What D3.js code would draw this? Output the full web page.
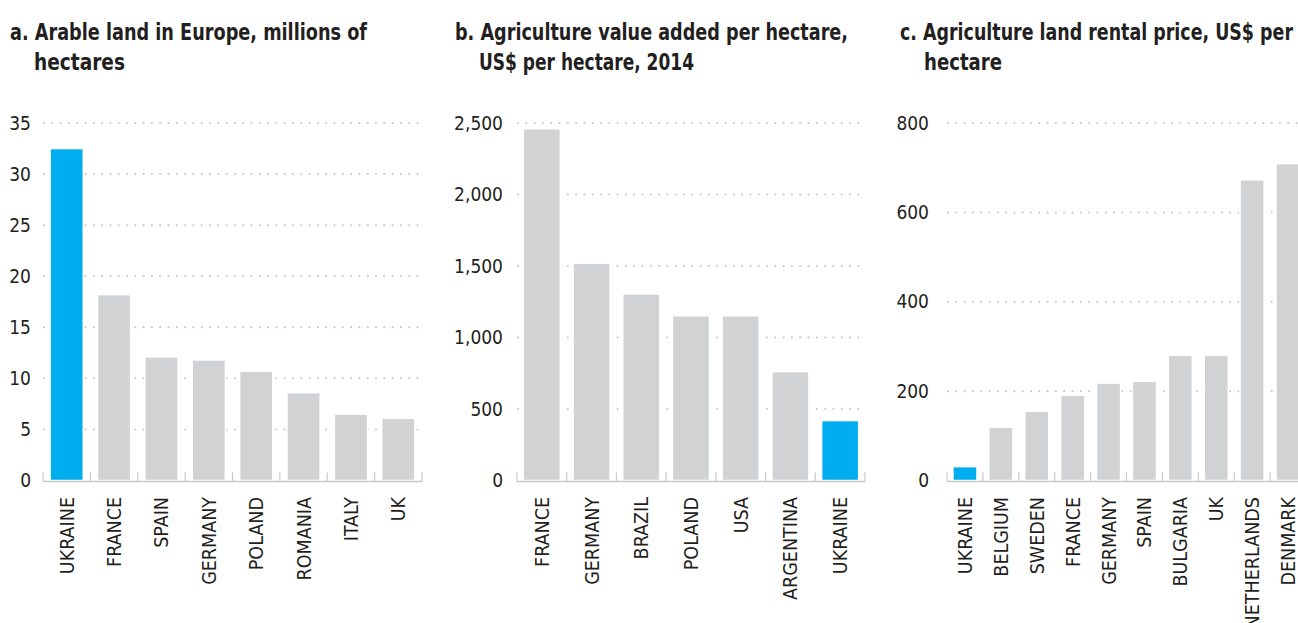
<!DOCTYPE html>
<html>
<head>
<meta charset="utf-8">
<script src="https://cdn.jsdelivr.net/npm/d3@7"></script>
<style>
  body { margin: 0; background: #fff; }
  svg { display: block; }
  .title { font-family: "DejaVu Sans Condensed", "Liberation Sans Narrow", sans-serif; font-weight: bold; font-size: 23px; fill: #231f20; }
  .ylab { font-family: "DejaVu Sans Condensed", "Liberation Sans Narrow", sans-serif; font-size: 19px; fill: #231f20; }
  .xlab { font-family: "DejaVu Sans Condensed", "Liberation Sans Narrow", sans-serif; font-size: 19.5px; fill: #231f20; }
</style>
</head>
<body>
<svg id="chart" width="1298" height="623"></svg>
<script>
// a. arable land, millions of hectares
const landCountries = ['UKRAINE', 'FRANCE', 'SPAIN', 'GERMANY', 'POLAND', 'ROMANIA', 'ITALY', 'UK'];
const landValues = [32.5, 18.2, 12.1, 11.8, 10.7, 8.6, 6.5, 6.1];
const landTicks = [0, 5, 10, 15, 20, 25, 30, 35];

// b. agriculture value added, US$ per hectare, 2014
const valueCountries = ['FRANCE', 'GERMANY', 'BRAZIL', 'POLAND', 'USA', 'ARGENTINA', 'UKRAINE'];
const valueValues = [2460, 1520, 1305, 1152, 1152, 761, 419];
const valueTicks = [0, 500, 1000, 1500, 2000, 2500];

// c. land rental price, US$ per hectare
const rentCountries = ['UKRAINE', 'BELGIUM', 'SWEDEN', 'FRANCE', 'GERMANY', 'SPAIN', 'BULGARIA', 'UK', 'NETHERLANDS', 'DENMARK'];
const rentValues = [31, 119, 155, 191, 218, 222, 280, 280, 673, 709];
const rentTicks = [0, 200, 400, 600, 800];

const BLUE = '#00aeef';
const GREY = '#d1d2d4';

const svg = d3.select('#chart');

function drawPanel(opt) {
    let g = svg.append('g');

    // title, two lines, second one indented; squeezed to look condensed
    let t = g.append('text').attr('class', 'title');
    t.append('tspan').attr('x', opt.titleX).attr('y', 40)
        .attr('textLength', opt.titleW[0]).attr('lengthAdjust', 'spacingAndGlyphs')
        .text(opt.title[0]);
    t.append('tspan').attr('x', opt.titleX + 24).attr('y', 70)
        .attr('textLength', opt.titleW[1]).attr('lengthAdjust', 'spacingAndGlyphs')
        .text(opt.title[1]);

    let x = d3.scaleBand()
        .domain(opt.categories)
        .range([opt.x0, opt.x1])
        .paddingInner(opt.pad)
        .paddingOuter(opt.pad / 2);

    let y = d3.scaleLinear()
        .domain([0, d3.max(opt.ticks)])
        .range([480.5, 123]);

    // dotted gridlines
    g.selectAll('.grid')
        .data(opt.ticks.slice(1))
        .enter()
        .append('line')
        .attr('x1', opt.x0 + 1)
        .attr('x2', opt.gridEnd)
        .attr('y1', d => y(d))
        .attr('y2', d => y(d))
        .attr('stroke', '#c4c4c4')
        .attr('stroke-width', 2)
        .attr('stroke-linecap', 'round')
        .attr('stroke-dasharray', '0 8.3');

    // y labels
    g.selectAll('.ylab')
        .data(opt.ticks)
        .enter()
        .append('text')
        .attr('class', 'ylab')
        .attr('x', opt.labelX)
        .attr('y', d => y(d))
        .attr('dy', '0.35em')
        .attr('text-anchor', 'end')
        .text(d => opt.format(d));

    // bars
    g.selectAll('.bar')
        .data(opt.values)
        .enter()
        .append('rect')
        .attr('x', (d, i) => x(opt.categories[i]))
        .attr('width', x.bandwidth())
        .attr('y', d => y(d))
        .attr('height', d => y(0) - y(d))
        .attr('fill', (d, i) => opt.categories[i] == 'UKRAINE' ? BLUE : GREY)
        .attr('stroke', '#fff')
        .attr('stroke-width', 1.5);

    // baseline with ticks at band boundaries
    g.append('line')
        .attr('x1', opt.x0).attr('x2', opt.x1)
        .attr('y1', y(0) + 1).attr('y2', y(0) + 1)
        .attr('stroke', '#c8c8c8')
        .attr('stroke-width', 1.5);

    let bounds = d3.range(opt.categories.length + 1).map(i => opt.x0 + i * x.step());
    g.selectAll('.tick')
        .data(bounds)
        .enter()
        .append('line')
        .attr('x1', d => d).attr('x2', d => d)
        .attr('y1', y(0) + 1).attr('y2', y(0) - 8)
        .attr('stroke', '#c8c8c8')
        .attr('stroke-width', 1.2);

    // category labels, rotated
    g.selectAll('.xlab')
        .data(opt.categories)
        .enter()
        .append('text')
        .attr('class', 'xlab')
        .attr('transform', d => 'translate(' + (x(d) + x.bandwidth() / 2) + ',497) rotate(-90)')
        .attr('dy', '0.36em')
        .attr('text-anchor', 'end')
        .text(d => d);
}

drawPanel({
    title: ['a. Arable land in Europe, millions of', 'hectares'],
    titleW: [357, 91],
    titleX: 10,
    categories: landCountries, values: landValues, ticks: landTicks,
    x0: 43, x1: 422, pad: 0.3, gridEnd: 425, labelX: 31,
    format: d3.format('d'),
});

drawPanel({
    title: ['b. Agriculture value added per hectare,', 'US$ per hectare, 2014'],
    titleW: [393, 215],
    titleX: 455,
    categories: valueCountries, values: valueValues, ticks: valueTicks,
    x0: 517, x1: 865, pad: 0.255, gridEnd: 866, labelX: 503,
    format: d3.format(','),
});

drawPanel({
    title: ['c. Agriculture land rental price, US$ per', 'hectare'],
    titleW: [393, 78],
    titleX: 900,
    categories: rentCountries, values: rentValues, ticks: rentTicks,
    x0: 947, x1: 1306, pad: 0.33, gridEnd: 1298, labelX: 929,
    format: d3.format('d'),
});
</script>
</body>
</html>
